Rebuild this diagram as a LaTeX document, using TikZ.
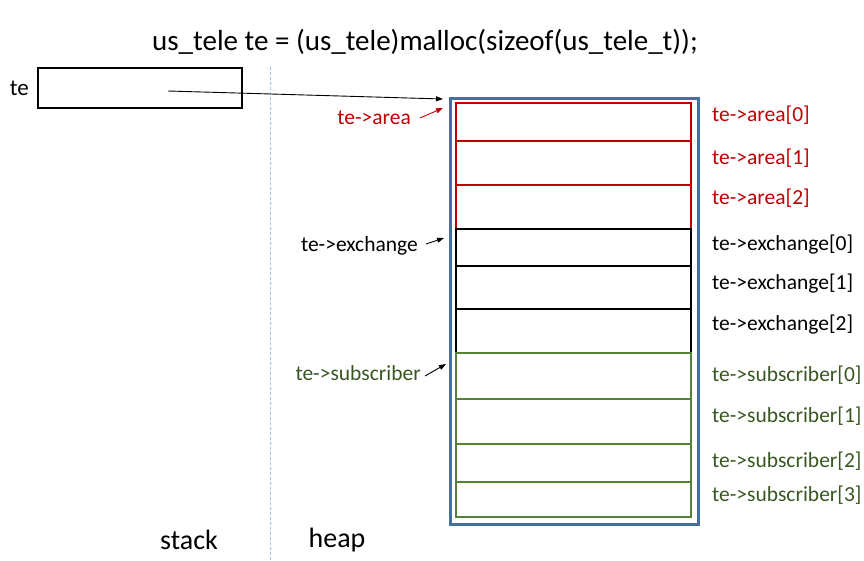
\documentclass[tikz,border=0pt]{standalone}
\usepackage{fontspec}
\setmainfont{Carlito}
\usetikzlibrary{calc,positioning,arrows.meta}

\definecolor{areared}{RGB}{192,0,0}
\definecolor{subgreen}{RGB}{84,130,53}
\definecolor{subtext}{RGB}{56,87,35}
\definecolor{heapblue}{RGB}{65,113,156}
\definecolor{splitblue}{RGB}{157,195,230}

\begin{document}
\begin{tikzpicture}[x=1pt,y=-1pt,font=\fontsize{21.5}{25}\selectfont,
	cell/.style={draw,line width=1.1pt,minimum width=235pt,inner sep=0pt,outer sep=0pt},
	ptr/.style={-{Triangle[length=7pt,width=5pt]},line width=0.9pt},
	lbl/.style={anchor=west,inner sep=0pt},
	big/.style={font=\fontsize{28}{32}\selectfont}]
	\useasboundingbox (0,0) rectangle (864,560);

	\node[font=\fontsize{29}{33}\selectfont] (title) at (425,42) {us\_tele te = (us\_tele)malloc(sizeof(us\_tele\_t));};

	%% stack side
	\node[draw,line width=2pt,minimum width=204pt,minimum height=40pt,anchor=north west] (tebox) at (37,67) {};
	\node[anchor=east,inner sep=0pt,font=\fontsize{23}{27}\selectfont] (te) at ($(tebox.west)+(-8,0)$) {te};
	\coordinate (tep) at ($(tebox.center)+(28,3)$);
	\draw[splitblue,dashed,dash pattern=on 3pt off 2pt,line width=0.8pt] (270,67) -- (270,560);
	\node[big] (stack) at (189,540) {stack};
	\node[big] (heap) at (337,540) {heap};

	%% heap block
	\node[draw=heapblue,line width=3pt,minimum width=248pt,minimum height=426pt,anchor=north west] (heapbox) at (449,97) {};

	\node[cell,draw=areared,minimum height=38pt,anchor=north west] (a0) at (456,103) {};
	\node[cell,draw=areared,minimum height=44pt,below=0pt of a0] (a1) {};
	\node[cell,draw=areared,minimum height=44pt,below=0pt of a1] (a2) {};
	\node[cell,minimum height=37pt,below=0pt of a2] (x0) {};
	\node[cell,minimum height=43pt,below=0pt of x0] (x1) {};
	\node[cell,minimum height=44pt,below=0pt of x1] (x2) {};
	\node[cell,draw=subgreen,minimum height=46pt,below=0pt of x2] (s0) {};
	\node[cell,draw=subgreen,minimum height=45pt,below=0pt of s0] (s1) {};
	\node[cell,draw=subgreen,minimum height=38pt,below=0pt of s1] (s2) {};
	\node[cell,draw=subgreen,minimum height=35pt,below=0pt of s2] (s3) {};

	\draw[areared,line width=2.2pt] (a0.north west) rectangle (a2.south east);
	\draw[line width=2.2pt] (x0.north west) rectangle (x2.south east);
	\draw[subgreen,line width=2.2pt] (s0.north west) rectangle (s3.south east);

	%% element names
	\node[lbl,text=areared] (ra0) at (712,115) {te->area[0]};
	\node[lbl,text=areared] (ra1) at (712,158) {te->area[1]};
	\node[lbl,text=areared] (ra2) at (712,198) {te->area[2]};
	\node[lbl] (rx0) at (712,245) {te->exchange[0]};
	\node[lbl] (rx1) at (712,284) {te->exchange[1]};
	\node[lbl] (rx2) at (712,325) {te->exchange[2]};
	\node[lbl,text=subtext] (rs0) at (712,375) {te->subscriber[0]};
	\node[lbl,text=subtext] (rs1) at (712,416) {te->subscriber[1]};
	\node[lbl,text=subtext] (rs2) at (712,461) {te->subscriber[2]};
	\node[lbl,text=subtext] (rs3) at (712,495) {te->subscriber[3]};

	%% member pointers
	\node[anchor=east,inner sep=0pt,text=areared] (larea) at (411,118) {te->area};
	\node[anchor=east,inner sep=0pt] (lexch) at (418,246) {te->exchange};
	\node[anchor=east,inner sep=0pt,text=subtext] (lsub) at (421,373) {te->subscriber};

	\draw[ptr] (tep) -- ($(heapbox.north west)+(-6,2)$);
	\draw[ptr,areared] ($(larea.east)+(9,0)$) -- ($(a0.north west)+(-13,5)$);
	\draw[ptr] ($(lexch.east)+(8,-2)$) -- ($(x0.north west)+(-12,9)$);
	\draw[ptr] ($(lsub.east)+(4,3)$) -- ($(s0.north west)+(-10,11)$);
\end{tikzpicture}
\end{document}
